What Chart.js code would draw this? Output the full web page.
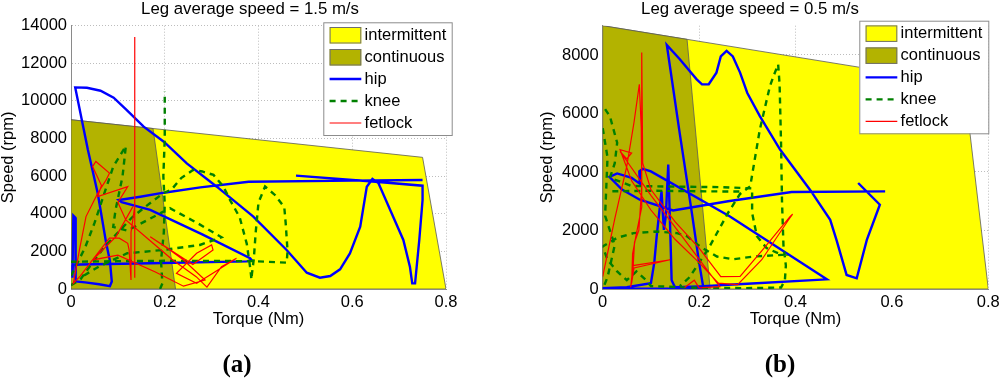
<!DOCTYPE html>
<html>
<head>
<meta charset="utf-8">
<script src="https://cdn.jsdelivr.net/npm/chart.js@4.4.0/dist/chart.umd.min.js"></script>
<style>
  html, body { margin: 0; padding: 0; background: #fff; }
  #wrap { position: relative; width: 1000px; height: 378px; overflow: hidden; }
  .panel { position: absolute; top: 0; width: 500px; height: 378px; }
  .tag { position: absolute; top: 351px; width: 80px; text-align: center;
         font: bold 25px "Liberation Serif", "Times New Roman", serif; line-height: 25px; color: #000; }
</style>
</head>
<body>
<div id="wrap">
  <div class="panel" style="left:0"><canvas id="chartA" width="500" height="378"></canvas></div>
  <div class="panel" style="left:500px"><canvas id="chartB" width="500" height="378"></canvas></div>
  <div class="tag" style="left:197px">(a)</div>
  <div class="tag" style="left:740px">(b)</div>
</div>
<script>
const FONT = '"Liberation Sans", Arial, Helvetica, sans-serif';

// motor envelope (same in both panels)
const intermittentTorque = [0, 0, 0.75, 0.8, 0];
const intermittentSpeed = [0, 9000, 7000, 0, 0];
const continuousTorque = [0, 0, 0.175, 0.223, 0];
const continuousSpeed = [0, 9000, 8533, 0, 0];

const seriesNames = ['intermittent', 'continuous', 'hip', 'knee', 'fetlock'];

// tick values
const torqueTicks = [0, 0.2, 0.4, 0.6, 0.8];
const speedTicksA = [0, 2000, 4000, 6000, 8000, 10000, 12000, 14000];
const speedTicksB = [0, 2000, 4000, 6000, 8000];

// (a) leg average speed 1.5 m/s
const hipTorqueA = [0.75,0.60,0.379,0.276,0.198,0.148,0.102,0.108,0.169,0.28,0.382,0.385,0.375,0.169,0.02,0.004,0.003,0.005,0.009,0.01,0.03,0.06,0.083,0.087,0.083,0.075,0.057,0.036,0.009,0.034,0.063,0.091,0.119,0.155,0.198,0.247,0.311,0.389,0.46,0.503,0.531,0.553,0.574,0.595,0.617,0.631,0.643,0.656,0.681,0.709,0.723,0.728,0.734,0.743,0.750,0.750,0.65,0.48];
const hipSpeedA = [5794,5760,5706,5405,5121,4908,4731,4620,4205,2900,1634,1544,1470,1368,1300,1280,600,3900,3800,400,350,250,150,400,1500,2450,5094,7400,10720,10703,10543,10171,9516,8630,7832,6680,5440,3845,2073,868,602,691,1045,1896,3314,5440,5848,5617,4200,2605,1187,300,300,2605,4731,5493,5700,6030];

const kneeTorqueA = [0.0,0.1,0.2,0.3,0.39,0.46,0.462,0.458,0.455,0.435,0.414,0.40,0.394,0.39,0.386,0.385,0.383,0.375,0.36,0.34,0.325,0.304,0.28,0.261,0.235,0.215,0.197,0.16,0.13,0.10,0.07,0.04,0.02,0.0,
  null,0.0,0.03,0.05,0.07,0.09,0.112,0.117,0.11,0.095,0.09,0.12,0.211,0.27,0.321,0.275,0.197,0.12,0.06,0.02,
  null,0.19,0.195,0.192,0.198,0.2,0.197,0.2,0.2];
const kneeSpeedA = [1450,1480,1500,1490,1480,1400,2000,3500,4350,5000,5450,4600,3000,1600,800,500,1000,2400,3800,4700,5446,6068,6250,6334,5900,5300,5094,4400,3800,3000,2200,1200,500,200,
  null,700,2200,3500,5000,6500,7400,7600,6000,4200,3300,3100,4296,3500,2750,2342,2076,1900,1200,600,
  null,0,300,1500,3000,4500,6000,8000,10500];

const fetTorqueA = [0.136,0.136,0.136,0.128,0.128,0.124,0.121,0.103,0.082,0.046,0.02,0.005,0.018,0.032,0.057,0.075,0.082,0.053,0.046,0.065,0.057,0.121,0.10,0.117,0.167,0.217,0.267,0.29,0.321,0.353,0.30,0.268,0.225,0.268,0.30,0.303,0.26,0.169,0.211,0.24,0.286,0.24,0.18,0.1,0.046,0.096,0.132];
const fetSpeedA = [600,13400,4400,3000,480,2076,2430,2700,2700,1544,700,300,2076,3850,5094,5800,6160,6780,6510,5500,4913,5446,4600,3673,2608,1544,655,100,1187,1632,800,300,835,1900,2342,2076,1300,2784,2076,1544,480,150,900,1800,1544,2784,4381];

// (b) leg average speed 0.5 m/s
const hipTorqueB = [0.53,0.575,0.548,0.527,0.506,0.485,0.472,0.43,0.368,0.326,0.30,0.285,0.27,0.257,0.245,0.236,0.22,0.206,0.195,0.16,0.133,0.16,0.185,0.2,0.209,0.15,0.0,
  0.0,0.05,0.1,0.107,0.112,0.122,0.127,0.131,0.136,0.141,0.143,0.15,0.2,0.3,0.465,0.264,0.1,0.083,0.076,0.077,0.06,0.03,0.014,0.04,0.077,0.146,0.26,0.392,0.586];
const hipSpeedB = [3623,2880,1680,366,480,1680,2366,3395,4766,5908,6700,7396,7950,8138,7950,7396,7000,6995,7166,7852,8344,5300,2600,900,24,10,15,
  30,60,200,900,1800,3337,2023,2500,4252,1500,300,60,90,180,330,2480,4022,4104,4022,3600,3800,3950,3830,3400,3052,2685,3000,3314,3337];

const kneeTorqueB = [0.005,0.015,0.03,0.025,0.015,0.06,0.15,0.25,0.31,0.31,0.32,0.34,0.36,0.375,0.313,0.271,0.237,0.202,0.175,0.154,0.112,0.064,0.03,0.0,0.01,0.03,0.05,0.07,0.09,0.1,0.2,0.3,0.37,0.378,0.38,0.375,0.372,0.37,0.367,0.364,0.355,0.347,0.326,0.306,0.285,0.26,0.24,0.22,0.2,0.18,0.16,
  null,0.02,0.1,0.2,0.29,
  null,0.0,0.01,0.005,0.025,0.01,0.0];
const kneeSpeedB = [6150,5900,5000,4300,3800,3520,3500,3480,3440,2600,1800,1400,1250,1170,1109,1017,1109,1452,1800,1909,1966,1909,1750,1450,1000,600,300,600,300,100,40,30,50,300,800,1500,3000,5000,7000,7680,7300,6937,5452,3508,3250,2600,2000,1400,900,400,100,
  null,3340,3360,3340,3330,
  null,5500,4500,2500,1500,400,0];

const fetTorqueB = [0.0,0.025,0.05,0.065,0.076,0.08,0.081,0.075,0.066,0.062,0.058,0.063,0.14,0.065,0.06,0.062,0.07,0.081,0.081,0.083,0.1,0.15,0.2,0.245,0.285,0.33,0.389,0.394,0.385,0.33,0.28,0.24,0.2,0.15,0.1,0.06,0.036,0.06,0.05,0.036,0.1,0.16,0.21,0.243,0.2,0.19,0.17];
const fetSpeedB = [420,2400,4200,5700,6995,5500,3500,2000,1600,400,60,800,1000,720,200,1200,1900,2800,8080,4300,3400,2300,1400,420,430,1300,2480,2560,2350,1000,150,200,900,1700,2700,3700,4766,4650,4450,4700,3200,1900,800,80,40,300,50];

function pts(xs, ys) {
  return xs.map((x, i) => ({ x: x === null ? xs[i - 1] : x, y: ys[i] }));
}

// legend drawn inside the plot, like the original figure
const boxLegend = {
  id: 'boxLegend',
  afterDraw(chart, args, opts) {
    const ctx = chart.ctx;
    const ds = chart.data.datasets;
    ctx.save();
    ctx.fillStyle = '#fff';
    ctx.fillRect(opts.x, opts.y, opts.w, opts.h);
    ctx.strokeStyle = '#8c8c8c';
    ctx.lineWidth = 1;
    ctx.strokeRect(opts.x + 0.5, opts.y + 0.5, opts.w, opts.h);
    ctx.font = '16.5px ' + FONT;
    ctx.textBaseline = 'middle';
    ds.forEach((d, i) => {
      const cy = opts.y + 12.7 + i * 22;
      const sx = opts.x + 6.3, sw = 31.7;
      if (d.fill) {
        ctx.fillStyle = d.backgroundColor;
        ctx.fillRect(sx, cy - 8, sw, 16.5);
        ctx.strokeStyle = '#6e6e6e';
        ctx.lineWidth = 1;
        ctx.strokeRect(sx + 0.5, cy - 7.5, sw - 1, 15.5);
      } else {
        ctx.strokeStyle = d.borderColor;
        ctx.lineWidth = d.borderWidth;
        ctx.setLineDash(d.borderDash || []);
        ctx.beginPath();
        ctx.moveTo(sx, cy);
        ctx.lineTo(sx + sw, cy);
        ctx.stroke();
        ctx.setLineDash([]);
      }
      ctx.fillStyle = '#000';
      ctx.fillText(d.label, sx + sw + 3.3, cy);
    });
    ctx.restore();
  }
};

function makeChart(id, p) {
  const tickFont = { family: FONT, size: 16.5 };
  return new Chart(document.getElementById(id), {
    type: 'line',
    data: {
      datasets: [
        { label: seriesNames[0], data: pts(intermittentTorque, intermittentSpeed), fill: 'shape',
          backgroundColor: '#ffff00', borderColor: '#5a5a5a', borderWidth: 0.8, order: 4 },
        { label: seriesNames[1], data: pts(continuousTorque, continuousSpeed), fill: 'shape',
          backgroundColor: '#b3b300', borderColor: '#5a5a5a', borderWidth: 0.8, order: 3 },
        { label: seriesNames[2], data: pts(p.hipT, p.hipS), borderColor: '#0000ff', borderWidth: 2.4, order: 2 },
        { label: seriesNames[3], data: pts(p.kneeT, p.kneeS), borderColor: '#008000', borderWidth: 2.4,
          borderDash: [6, 5], order: 1 },
        { label: seriesNames[4], data: pts(p.fetT, p.fetS), borderColor: '#ff0000', borderWidth: 1.2, order: 0 }
      ]
    },
    options: {
      responsive: false,
      animation: false,
      devicePixelRatio: 1,
      elements: { point: { radius: 0 }, line: { tension: 0 } },
      layout: { padding: 0 },
      scales: {
        x: {
          type: 'linear', min: 0, max: 0.8,
          afterBuildTicks: s => { s.ticks = torqueTicks.map(v => ({ value: v })); },
          ticks: { padding: 3.6, font: tickFont, color: '#000',
                   callback: v => String(Math.round(v * 10) / 10) },
          grid: { color: '#bdbdbd', drawTicks: false },
          border: { display: true, color: '#8a8a8a', dash: [1, 2] },
          title: { display: true, text: 'Torque (Nm)', color: '#000',
                   font: { family: FONT, size: 16.5, lineHeight: 1 }, padding: { top: 0, bottom: 50.25 } },
          afterFit: s => { s.height = 89; s.paddingRight = p.rightGap; }
        },
        y: {
          type: 'linear', min: 0, max: p.yMax,
          afterBuildTicks: s => { s.ticks = p.yTicks.map(v => ({ value: v })); },
          ticks: { padding: 4, font: tickFont, color: '#000', callback: v => String(v) },
          grid: { color: '#bdbdbd', drawTicks: false },
          border: { display: true, color: '#8a8a8a', dash: [1, 2] },
          title: { display: true, text: 'Speed (rpm)', color: '#000',
                   font: { family: FONT, size: 16.5, lineHeight: 1 }, padding: { top: p.yTitlePad, bottom: 0 } },
          afterFit: s => { s.width = p.yWidth; }
        }
      },
      plugins: {
        legend: { display: false },
        tooltip: { enabled: false },
        title: { display: true, text: p.title, color: '#000',
                 font: { family: FONT, size: 16.8, weight: 'normal', lineHeight: 1 },
                 padding: { top: 0.5, bottom: 8.4 } },
        boxLegend: p.legend
      }
    },
    plugins: [boxLegend]
  });
}

makeChart('chartA', {
  title: 'Leg average speed = 1.5 m/s', yMax: 14000, yTicks: speedTicksA, yWidth: 71, yTitlePad: 0, rightGap: 54,
  hipT: hipTorqueA, hipS: hipSpeedA, kneeT: kneeTorqueA, kneeS: kneeSpeedA, fetT: fetTorqueA, fetS: fetSpeedA,
  legend: { x: 323.3, y: 22.3, w: 128.4, h: 112.7 }
});
makeChart('chartB', {
  title: 'Leg average speed = 0.5 m/s', yMax: 9000, yTicks: speedTicksB, yWidth: 102.7, yTitlePad: 39.25, rightGap: 11.7,
  hipT: hipTorqueB, hipS: hipSpeedB, kneeT: kneeTorqueB, kneeS: kneeSpeedB, fetT: fetTorqueB, fetS: fetSpeedB,
  legend: { x: 359.3, y: 20.7, w: 129, h: 112.6 }
});
</script>
</body>
</html>
